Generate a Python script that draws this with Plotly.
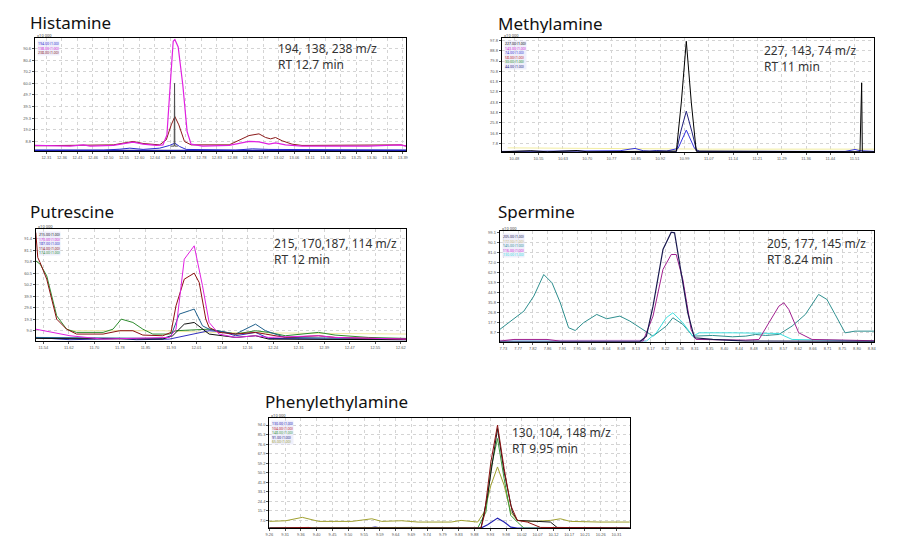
import plotly.graph_objects as go

# ---------------- DATA (retention time in min, relative intensity %) ----------------
# Histamine
his_mag_t = [12.280,12.387,12.427,12.447,12.517,12.557,12.577,12.607,12.647,12.667,12.679,12.689,12.698,12.703,12.713,12.727,12.740,12.752,12.787,12.867,12.897,12.927,12.957,12.987,13.007,13.037,13.087,13.187,13.287,13.382,13.402]
his_mag_y = [5.3,4.7,5.8,4.7,5.3,7.3,8.2,6.4,5.3,5.8,14.6,58.5,97,98.5,92,58.5,17.5,6.4,4.7,5.3,7,8.8,8.5,6.4,7.6,5.8,4.7,5,4.7,5.8,4.7]
his_red_t = [12.280,12.427,12.517,12.547,12.577,12.607,12.657,12.677,12.692,12.703,12.715,12.732,12.752,12.867,12.897,12.927,12.957,12.977,12.992,13.007,13.027,13.057,13.087,13.187,13.387,13.402]
his_red_y = [5,5.8,5.8,7.3,8.8,7,5.8,10.2,23.4,30.7,23.4,8.8,5.8,5.8,10.2,14,15.5,12.3,11.1,12.3,9.4,6.4,5.3,5.3,5.8,4.7]
his_spk_t = [12.690,12.701,12.702,12.703,12.712]
his_spk_y = [4.7,4.7,60,4.7,4.7]
his_blu_t = [12.280,12.487,12.537,12.567,12.607,12.657,12.687,12.703,12.717,12.737,12.887,12.937,12.987,13.402]
his_blu_y = [1.2,1.2,2,2.9,1.8,2.9,5.3,7.3,4.4,1.8,1.2,2.3,1.8,1.2]
his_nav_t = [12.280,12.600,12.900,13.402]
his_nav_y = [0.4,0.4,0.4,0.4]

# Methylamine
met_blk_t = [10.442,10.530,10.580,10.670,10.700,10.970,10.985,11.000,11.015,11.030,11.525,11.530,11.532,11.568]
met_blk_y = [0.6,1.5,0.6,1.7,0.6,1.2,44,97,44,1.2,0.6,60.8,0.6,0.6]
met_nav_t = [10.442,10.970,10.983,11.000,11.017,11.032,11.568]
met_nav_y = [0.3,0.6,18,36,18,0.6,0.3]
met_blu_t = [10.442,10.800,10.830,10.845,10.870,10.890,10.910,10.940,10.975,11.000,11.025,11.040,11.480,11.495,11.510,11.525,11.568]
met_blu_y = [0.9,1.5,2.9,3.5,1.5,1.2,1.7,1.2,3.5,19.5,3.5,0.9,0.9,2,2.6,1.5,0.9]
met_yel_t = [10.460,10.780,10.980,11.080,11.568]
met_yel_y = [4,3.5,3.5,2.9,2.9]

# Putrescine
put_yel_t = [11.625,11.905,12.045,12.640]
put_yel_y = [9,9,7.5,6]
put_grn_t = [11.522,11.535,11.555,11.585,11.615,11.645,11.725,11.755,11.780,11.815,11.845,11.875,11.925,11.945,12.045,12.105,12.125,12.185,12.225,12.275,12.375,12.425,12.525,12.640]
put_grn_y = [71.6,68.7,58.2,22.4,10.4,7.5,7.5,10.4,19.4,16.4,10.4,6,6,9,10.4,7.5,6,9,7.5,4.5,7.5,5.1,3,2.1]
put_blu_t = [11.522,11.575,11.625,11.775,11.825,11.925,12.045,12.085,12.125,12.185,12.225,12.640]
put_blu_y = [3,2.1,0.9,2.1,0.9,1.5,9,8.1,4.5,7.5,2.1,0.9]
put_tea_t = [11.522,11.905,11.930,11.955,11.985,12.000,12.025,12.045,12.125,12.185,12.215,12.275,12.640]
put_tea_y = [3,2.1,4.5,23.9,26.9,28.4,13.4,10.4,6,14.9,9,3,1.5]
put_blk_t = [11.522,11.905,11.935,11.970,12.000,12.025,12.045,12.125,12.185,12.225,12.640]
put_blk_y = [2.1,1.5,4.5,14.9,16.4,10.4,6,3,4.5,1.5,0.9]
put_red_t = [11.522,11.528,11.535,11.555,11.585,11.615,11.645,11.725,11.775,11.815,11.845,11.905,11.930,11.945,11.970,12.000,12.015,12.035,12.045,12.075,12.125,12.185,12.215,12.275,12.375,12.425,12.640]
put_red_y = [97,74.6,70.1,55.2,19.4,10.4,6,6,9,9,5.1,4.5,7.5,31.3,55.2,60.6,52.2,19.4,11.9,7.5,6,7.5,6,3,4.5,3,1.5]
put_mag_t = [11.522,11.625,11.725,11.925,11.945,11.970,12.000,12.025,12.045,12.075,12.125,12.185,12.225,12.325,12.375,12.425,12.640]
put_mag_y = [10.4,4.5,1.5,3,10.4,73.1,85.1,49.3,16.4,6,3,4.5,3,3.9,4.5,3,1.5]

# Spermine
spe_pnk_t = [7.717,7.900,8.160]
spe_pnk_y = [1.0,1.0,1.0]
spe_tea_t = [7.717,7.750,7.790,7.820,7.850,7.875,7.900,7.925,7.945,7.970,8.010,8.040,8.080,8.110,8.150,8.180,8.220,8.240,8.270,8.300,8.360,8.420,8.460,8.490,8.520,8.560,8.600,8.640,8.680,8.705,8.730,8.760,8.790,8.820,8.848]
spe_tea_y = [11.1,18.7,27.7,41.3,60.8,53.3,35.2,12.7,10.2,17.2,24.7,20.8,23.2,18.7,11.1,5.1,14.2,21.7,15.7,5.1,5.7,4.5,5.1,6.6,5.7,6.6,14.2,24.7,42.8,38.3,24.7,8.1,9.6,9.6,9.6]
spe_cya_t = [7.717,8.160,8.190,8.220,8.240,8.270,8.300,8.320,8.420,8.560,8.600,8.848]
spe_cya_y = [0.6,0.6,8.1,21.7,26.2,17.2,5.1,8.1,8.1,7.5,2.1,0.6]
spe_pur_t = [7.717,7.760,7.860,7.900,8.150,8.180,8.210,8.235,8.250,8.270,8.295,8.310,8.460,8.500,8.530,8.560,8.575,8.590,8.620,8.660,8.760,8.848]
spe_pur_y = [0.6,2.1,2.1,0.6,0.6,23.2,65.4,78.9,78.9,56.3,11.1,2.1,1.5,2.1,17.2,32.2,35.2,29.2,8.1,2.1,1.5,0.9]
spe_nav_t = [7.717,8.140,8.160,8.180,8.210,8.235,8.245,8.260,8.285,8.305,8.360,8.460,8.848]
spe_nav_y = [0,0,5.1,32.2,83.4,99.1,98.5,71.4,26.2,3.6,2.1,0.6,0.3]

# Phenylethylamine
phe_olv_t = [9.260,9.310,9.360,9.410,9.510,9.570,9.600,9.660,9.710,9.810,9.840,9.890,9.910,9.930,9.950,9.970,9.990,10.010,10.060,10.110,10.140,10.170,10.260,10.350]
phe_olv_y = [6.1,6.7,9.8,6.1,6.1,8.5,6.1,6.7,5.5,5.5,7,5.5,14.6,39,55.8,39,14.6,7,6.1,7,8.5,6.1,5.5,5.5]
phe_grn_t = [9.260,9.650,9.670,9.690,9.890,9.900,9.915,9.930,9.950,9.970,9.990,10.010,10.030,10.350]
phe_grn_y = [0,0.6,1.2,0.6,0,5.5,14.6,54.3,81.7,45.1,11.6,5.5,0,0]
phe_blk_t = [9.260,9.900,9.920,9.950,9.970,9.995,10.010,10.060,10.110,10.130,10.350]
phe_blk_y = [0,0,29.9,90.9,51.2,14.6,7,6.1,5.5,0.6,0]
phe_red_t = [9.260,9.340,9.380,9.390,9.900,9.910,9.930,9.950,9.970,9.990,10.010,10.040,10.080,10.350]
phe_red_y = [0,0.6,0.6,0,0,11.6,60.4,93.9,54.3,20.7,7,5.5,0.6,0]
phe_blu_t = [9.260,9.560,9.580,9.600,9.900,9.920,9.950,9.970,9.990,10.010,10.350]
phe_blu_y = [0,0,0.9,0,0,3,9.1,5.5,0.9,0,0]

titles = ["Histamine", "Methylamine", "Putrescine", "Spermine", "Phenylethylamine"]
ions = ["194, 138, 238 m/z<br>RT 12.7 min", "227, 143, 74 m/z<br>RT 11 min",
        "215, 170,187, 114 m/z<br>RT 12 min", "205, 177, 145 m/z<br>RT 8.24 min",
        "130, 104, 148 m/z<br>RT 9.95 min"]

# ---------------- LAYOUT GEOMETRY (pixels) ----------------
W, H = 910, 552
panels = [
    dict(box=(31, 405, 36, 150), xr=(12.280, 13.402), xt0=12.315, xdt=0.0468, yt0=8.8, ydt=10.23,
         tpos=(25, 20), ipos=(274, 54.5),
         series=[(his_nav_t, his_nav_y, "#1a1aa0", 2.5), (his_blu_t, his_blu_y, "#2a2ad0", 1),
                 (his_red_t, his_red_y, "#8b1a1a", 1), (his_mag_t, his_mag_y, "#e020e0", 1.2),
                 (his_spk_t, his_spk_y, "#505050", 1)],
         leg=[("194.00 (1.00)", "#3030d0"), ("138.00 (1.00)", "#d020d0"), ("238.00 (1.00)", "#8b1a1a")]),
    dict(box=(501, 876, 36, 151), xr=(10.442, 11.568), xt0=10.480, xdt=0.0735, yt0=7.8, ydt=9.0,
         tpos=(496, 21), ipos=(763, 57),
         series=[(met_yel_t, met_yel_y, "#f2eda0", 1), (met_blu_t, met_blu_y, "#3333dd", 1),
                 (met_nav_t, met_nav_y, "#20207a", 1), (met_blk_t, met_blk_y, "#000000", 1)],
         leg=[("227.00 (1.00)", "#000000"), ("143.00 (1.00)", "#d020d0"), ("74.00 (1.00)", "#3030d0"),
              ("58.00 (1.00)", "#c02020"), ("30.00 (1.00)", "#209020"), ("44.00 (1.00)", "#20207a")]),
    dict(box=(32, 405, 228, 340), xr=(11.522, 12.640), xt0=11.545, xdt=0.077, yt0=9.0, ydt=10.3,
         tpos=(25, 210), ipos=(270, 250),
         series=[(put_yel_t, put_yel_y, "#eee8a0", 1), (put_grn_t, put_grn_y, "#2e8b2e", 1),
                 (put_blu_t, put_blu_y, "#3030c0", 1), (put_tea_t, put_tea_y, "#1f5f8b", 1),
                 (put_blk_t, put_blk_y, "#111111", 1), (put_red_t, put_red_y, "#8b1010", 1),
                 (put_mag_t, put_mag_y, "#e020e0", 1)],
         leg=[("215.00 (1.00)", "#111111"), ("170.00 (1.00)", "#d020d0"), ("187.00 (1.00)", "#3030c0"),
              ("114.00 (1.00)", "#8b1010"), ("174.00 (1.00)", "#2e8b2e")]),
    dict(box=(499, 876, 230, 341), xr=(7.717, 8.848), xt0=7.728, xdt=0.0445, yt0=8.7, ydt=9.04,
         tpos=(496, 210), ipos=(766, 250),
         series=[(spe_pnk_t, spe_pnk_y, "#f3b8f0", 2), (spe_tea_t, spe_tea_y, "#2f8f8f", 1),
                 (spe_cya_t, spe_cya_y, "#40dede", 1), (spe_pur_t, spe_pur_y, "#a0208f", 1),
                 (spe_nav_t, spe_nav_y, "#1a1a50", 1.2)],
         leg=[("205.00 (1.00)", "#1a1a50"), ("177.00 (1.00)", "#c8b870"), ("145.00 (1.00)", "#2f8f8f"),
              ("116.00 (1.00)", "#d020d0"), ("130.00 (1.00)", "#40dede")]),
    dict(box=(267, 630, 418, 528), xr=(9.260, 10.350), xt0=9.308, xdt=0.0477, yt0=7.0, ydt=8.7,
         tpos=(262, 400), ipos=(509, 440),
         series=[(phe_blu_t, phe_blu_y, "#2020b0", 1.2), (phe_olv_t, phe_olv_y, "#a0a030", 1),
                 (phe_grn_t, phe_grn_y, "#3a9a3a", 1), (phe_blk_t, phe_blk_y, "#111111", 1),
                 (phe_red_t, phe_red_y, "#8b1010", 1)],
         leg=[("130.00 (1.00)", "#2020b0"), ("104.00 (1.00)", "#c02020"), ("148.00 (1.00)", "#3a9a3a"),
              ("91.00 (1.00)", "#20207a"), ("65.00 (1.00)", "#a0a030")]),
]

fig = go.Figure()
annotations = []
layout = dict(width=W, height=H, margin=dict(l=0, r=0, t=0, b=0),
              paper_bgcolor="white", plot_bgcolor="white", showlegend=False,
              font=dict(family="Noto Sans, Open Sans, sans-serif"))


def px_x(x):
    return x / W


def px_y(y):
    return 1 - y / H


for i, p in enumerate(panels, start=1):
    l, r, t, b = p["box"]
    xk = "xaxis" if i == 1 else f"xaxis{i}"
    yk = "yaxis" if i == 1 else f"yaxis{i}"
    xs = "x" if i == 1 else f"x{i}"
    ys = "y" if i == 1 else f"y{i}"
    common = dict(showline=True, mirror=True, linecolor="#000000", linewidth=1,
                  showgrid=True, gridcolor="#d4d4d4", griddash="dot", gridwidth=1,
                  zeroline=False, ticks="outside", ticklen=2, tickcolor="#555",
                  tickfont=dict(size=4, color="#555", family="Liberation Sans, Arial"))
    layout[xk] = dict(domain=[px_x(l), px_x(r)], range=list(p["xr"]), anchor=ys,
                      tick0=p["xt0"], dtick=p["xdt"], tickformat=".2f", **common)
    layout[yk] = dict(domain=[px_y(b), px_y(t)], range=[0, 100], anchor=xs,
                      tick0=p["yt0"], dtick=p["ydt"], tickformat=".1f", **common)
    for (tx, ty, col, w) in p["series"]:
        fig.add_trace(go.Scatter(x=tx, y=ty, mode="lines", line=dict(color=col, width=w),
                                 xaxis=xs, yaxis=ys, hoverinfo="skip"))
    # title
    annotations.append(dict(text=titles[i - 1], xref="paper", yref="paper",
                            x=px_x(p["tpos"][0]), y=px_y(p["tpos"][1]),
                            xanchor="left", yanchor="middle", showarrow=False,
                            height=20, valign="middle", borderpad=0,
                            font=dict(size=17, color="#111", family="Noto Sans, Open Sans, sans-serif")))
    # ion / RT label
    annotations.append(dict(text=ions[i - 1], xref="paper", yref="paper",
                            x=px_x(p["ipos"][0]), y=px_y(p["ipos"][1]),
                            xanchor="left", yanchor="middle", align="left", showarrow=False,
                            font=dict(size=12, color="#333", family="Noto Sans, Open Sans, sans-serif")))
    # scale label above box
    annotations.append(dict(text="x10,000", xref="paper", yref="paper",
                            x=px_x(l + 1), y=px_y(t + 1), xanchor="left", yanchor="bottom",
                            showarrow=False, borderpad=0, font=dict(size=4, color="#444")))
    # tiny trace legend (one block of coloured lines)
    leg_txt = "<br>".join(f'<span style="color:{c}">{s}</span>' for s, c in p["leg"])
    annotations.append(dict(text=leg_txt, xref="paper", yref="paper",
                            x=px_x(l + 2), y=px_y(t + 2), xanchor="left", yanchor="top",
                            align="left", showarrow=False, borderpad=0,
                            bgcolor="rgba(232,232,250,0.7)",
                            font=dict(size=3.5, color="#333")))

layout["annotations"] = annotations
fig.update_layout(**layout)
fig.write_html("out.html")
